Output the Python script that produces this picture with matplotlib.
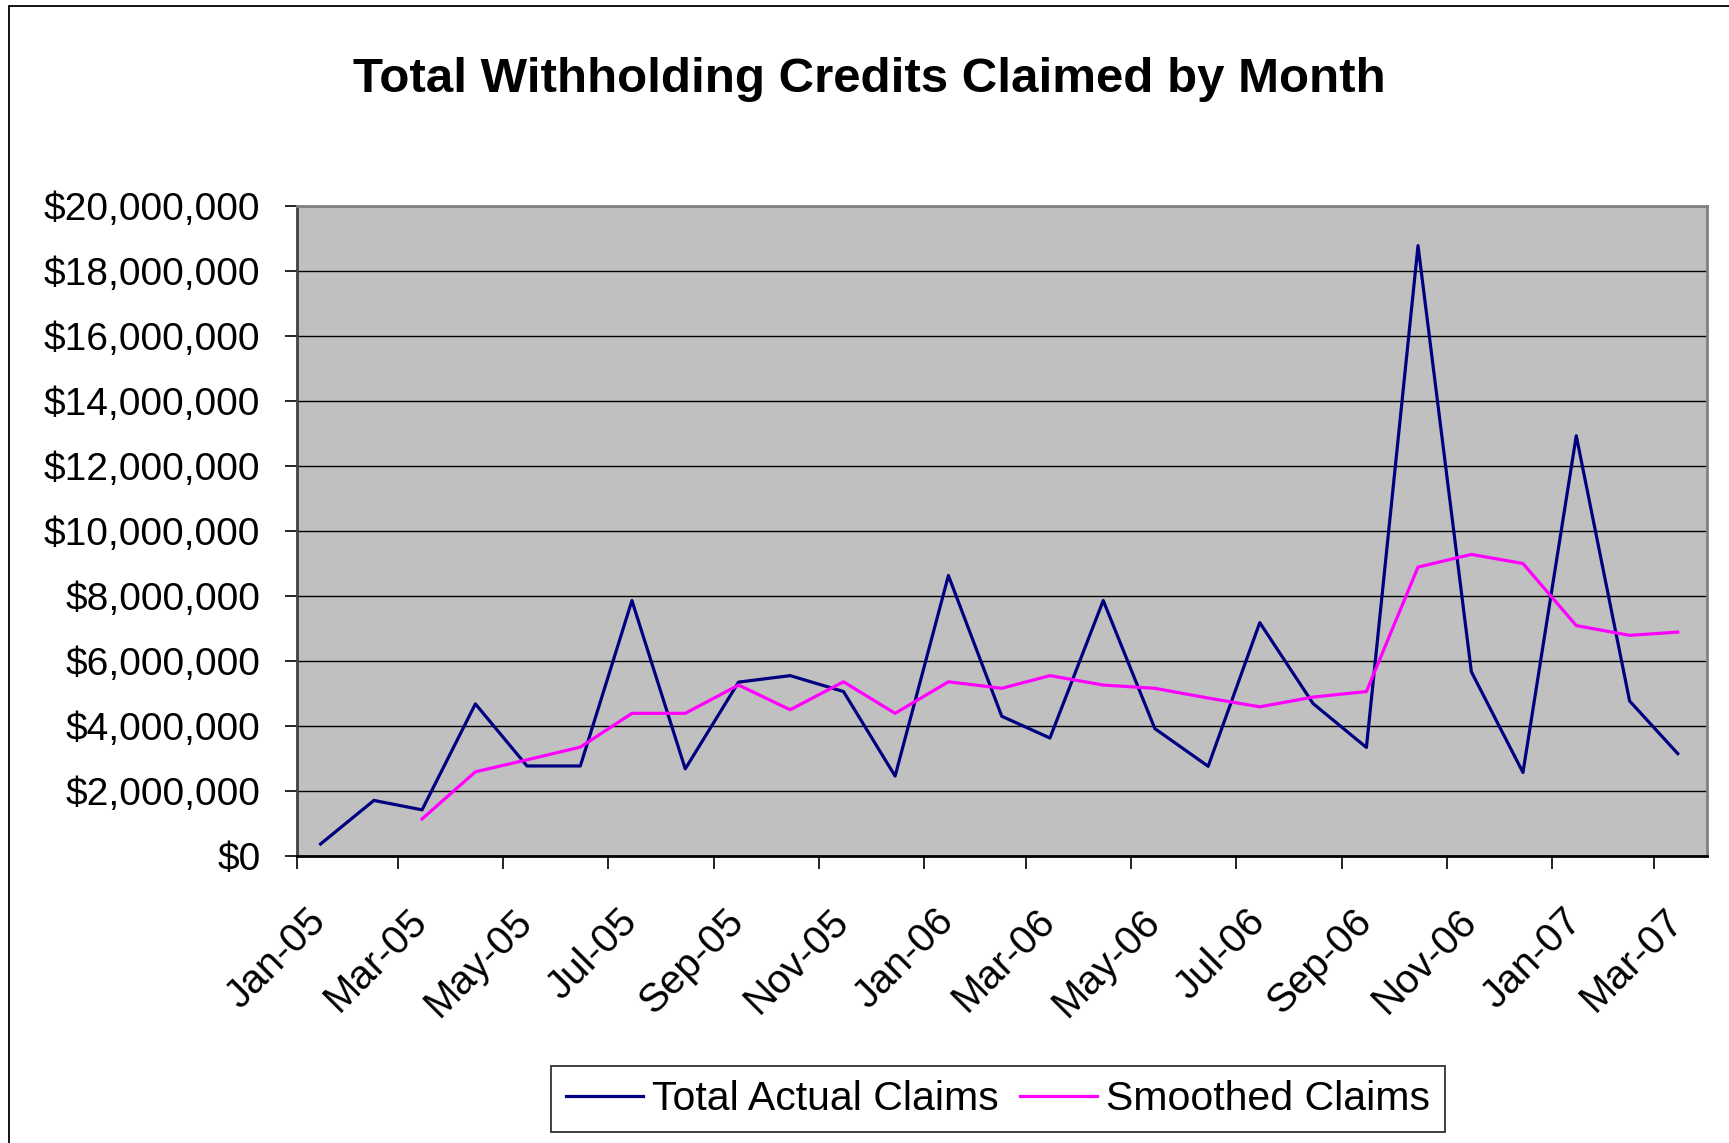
import pandas as pd
import matplotlib
matplotlib.use('Agg')
import matplotlib.pyplot as plt
import matplotlib.dates as mdates
from matplotlib.patches import Rectangle
from matplotlib.ticker import FuncFormatter, MultipleLocator
from matplotlib.transforms import ScaledTranslation

plt.rcParams['font.family'] = ['Liberation Sans', 'DejaVu Sans']

# monthly data, Jan-05 .. Mar-07 (values in $ millions)
months = pd.date_range('2005-01-01', periods=27, freq='MS') + pd.Timedelta(days=14)
actual_claims = [0.37, 1.71, 1.42, 4.68, 2.77, 2.77, 7.86, 2.68, 5.35, 5.55, 5.06, 2.46,
                 8.63, 4.30, 3.63, 7.86, 3.92, 2.76, 7.18, 4.69, 3.34, 18.78, 5.67, 2.57,
                 12.93, 4.77, 3.15]
smoothed_claims = [None, None, 1.14, 2.59, 2.96, 3.35, 4.39, 4.39, 5.26, 4.50, 5.36, 4.39,
                   5.36, 5.16, 5.55, 5.26, 5.16, 4.86, 4.59, 4.89, 5.06, 8.89, 9.28, 9.00,
                   7.09, 6.79, 6.89]
actual_claims = [v * 1e6 for v in actual_claims]
smoothed_claims = [v * 1e6 if v is not None else float('nan') for v in smoothed_claims]

W, H = 1729, 1143
fig = plt.figure(figsize=(W / 100, H / 100), dpi=100)
fig.patch.set_facecolor('white')

# outer chart border (cut off at right/bottom like the reference)
fig.add_artist(Rectangle((9 / W, -0.05), 1.2, 1 - 5.5 / H + 0.05, transform=fig.transFigure,
                         fill=False, edgecolor='black', lw=1.3))

left, right, top, bottom = 296.5, 1707, 206, 856
ax = fig.add_axes([left / W, 1 - bottom / H, (right - left) / W, (bottom - top) / H])
ax.set_facecolor('#C0C0C0')

ax.plot(months, actual_claims, color='#000080', lw=2.3, label='Total Actual Claims')
ax.plot(months, smoothed_claims, color='#FF00FF', lw=2.3, label='Smoothed Claims')

ax.set_ylim(0, 20e6)
ax.yaxis.set_major_locator(MultipleLocator(2e6))
ax.yaxis.set_major_formatter(FuncFormatter(lambda v, p: '${:,.0f}'.format(v)))
ax.grid(axis='y', color='black', lw=1.0)
ax.set_axisbelow(True)

ax.set_xlim(pd.Timestamp('2005-01-01'), pd.Timestamp('2007-04-01'))
ax.xaxis.set_major_locator(mdates.MonthLocator(bymonth=[1, 3, 5, 7, 9, 11]))
ax.xaxis.set_major_formatter(mdates.DateFormatter('%b-%y'))

ax.tick_params(axis='y', labelsize=28, length=9, width=1.2, colors='black', pad=17)
ax.tick_params(axis='x', labelsize=29, length=9, width=1.2, colors='black', pad=24)
shift = ScaledTranslation(10 / 100, 0, fig.dpi_scale_trans)
for lab in ax.get_xticklabels():
    lab.set_rotation(45)
    lab.set_ha('right')
    lab.set_rotation_mode('anchor')
    lab.set_transform(lab.get_transform() + shift)

for s in ['top', 'right']:
    ax.spines[s].set_color('#808080')
    ax.spines[s].set_linewidth(2)
ax.spines['left'].set_color('#404040')
ax.spines['left'].set_linewidth(2)
ax.spines['bottom'].set_color('black')
ax.spines['bottom'].set_linewidth(2)

fig.text(869.5 / W, 1 - 91.5 / H, 'Total Withholding Credits Claimed by Month',
         ha='center', va='baseline', fontsize=35.5, fontweight='bold')

leg = fig.legend(loc='center', bbox_to_anchor=(998 / W, 1 - 1099 / H), ncol=2,
                 fontsize=29.5, frameon=True, fancybox=False, edgecolor='black',
                 handlelength=1.9, handletextpad=0.22, columnspacing=0.5,
                 borderpad=0.35)
leg.get_frame().set_linewidth(1.3)

fig.savefig('out.png', dpi=100)
